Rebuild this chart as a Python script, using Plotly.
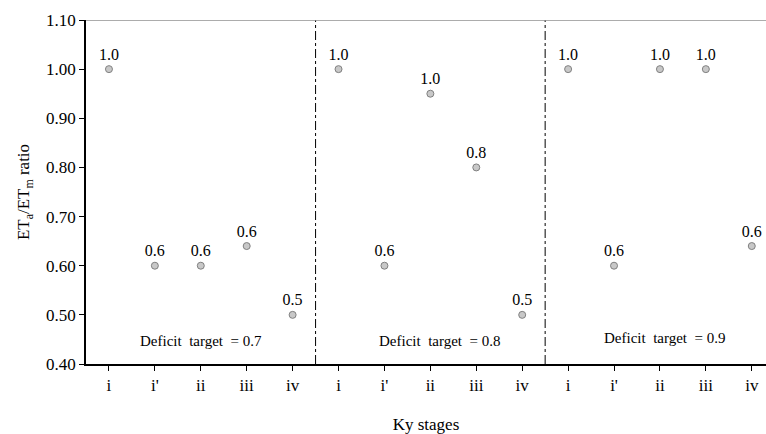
import plotly.graph_objects as go

stages = ["i", "i'", "ii", "iii", "iv"]
targets = ["0.7", "0.8", "0.9"]
ratio_07 = [1.00, 0.60, 0.60, 0.64, 0.50]
ratio_08 = [1.00, 0.60, 0.95, 0.80, 0.50]
ratio_09 = [1.00, 0.60, 1.00, 1.00, 0.64]
labels_07 = ["1.0", "0.6", "0.6", "0.6", "0.5"]
labels_08 = ["1.0", "0.6", "1.0", "0.8", "0.5"]
labels_09 = ["1.0", "0.6", "1.0", "1.0", "0.6"]

ys = ratio_07 + ratio_08 + ratio_09
texts = labels_07 + labels_08 + labels_09
xs = list(range(len(ys)))
ticktext = stages * 3

FONT = "Liberation Serif"

fig = go.Figure()
fig.add_trace(go.Scatter(
    x=xs, y=ys, mode="markers+text", text=texts, textposition="top center",
    textfont=dict(family=FONT, size=16, color="black"),
    marker=dict(size=7, color="#c8c8c8", line=dict(color="#808080", width=1)),
    showlegend=False, cliponaxis=False, hoverinfo="skip",
))

for xsep in [4.5, 9.5]:
    fig.add_shape(type="line", xref="x", yref="y", x0=xsep, x1=xsep, y0=0.40, y1=1.10,
                  line=dict(color="black", width=1, dash="dashdot"))

# top border
fig.add_shape(type="line", xref="paper", yref="y", x0=0, x1=1, y0=1.10, y1=1.10,
              line=dict(color="#909090", width=1.5))

centers = [2.0, 7.2, 12.1]
ann_y = [0.447, 0.447, 0.452]
for c, t, ay in zip(centers, targets, ann_y):
    fig.add_annotation(x=c, y=ay, xref="x", yref="y", text="Deficit  target  = " + t,
                       showarrow=False, font=dict(family=FONT, size=15, color="black"))

fig.update_layout(
    width=766, height=434,
    margin=dict(l=86, r=0, t=20, b=70),
    paper_bgcolor="white", plot_bgcolor="white",
    font=dict(family=FONT, size=16, color="black"),
    xaxis=dict(range=[-0.5, 14.31], tickmode="array", tickvals=xs, ticktext=ticktext,
               showgrid=False, zeroline=False, showline=True, linecolor="black", linewidth=1.5,
               ticks="outside", ticklen=5, tickcolor="black",
               title=dict(text="Ky stages", font=dict(family=FONT, size=17), standoff=26),
               tickfont=dict(family=FONT, size=17)),
    yaxis=dict(range=[0.40, 1.10], tickmode="array",
               tickvals=[0.40, 0.50, 0.60, 0.70, 0.80, 0.90, 1.00, 1.10],
               tickformat=".2f", showgrid=False, zeroline=False, showline=True,
               linecolor="black", linewidth=1.5, ticks="outside", ticklen=5, tickcolor="black",
               title=dict(text="ET<sub>a</sub>/ET<sub>m</sub> ratio", font=dict(family=FONT, size=17), standoff=12),
               tickfont=dict(family=FONT, size=17)),
)

fig.write_html("out.html", config={"displayModeBar": False},
               post_script="document.body.style.margin='0';document.body.style.padding='0';")
